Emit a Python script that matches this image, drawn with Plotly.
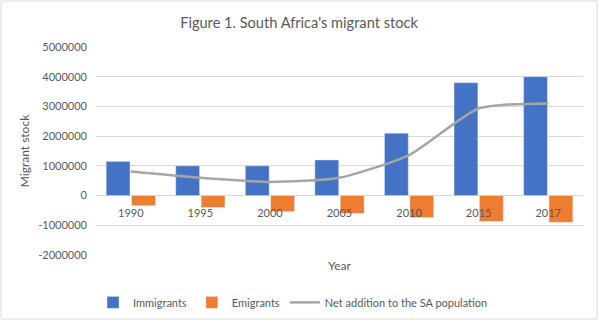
import plotly.graph_objects as go

years = ["1990", "1995", "2000", "2005", "2010", "2015", "2017"]
immigrants = [1150000, 1000000, 1000000, 1200000, 2100000, 3800000, 4000000]
emigrants = [-340000, -400000, -540000, -600000, -740000, -870000, -900000]
net_addition = [i + e for i, e in zip(immigrants, emigrants)]

y_ticks = [5000000, 4000000, 3000000, 2000000, 1000000, 0, -1000000, -2000000]

FONT = "Lato"
TEXT = "#595959"
GRID = "#D9D9D9"

fig = go.Figure()
fig.add_trace(go.Bar(x=years, y=immigrants, name="Immigrants",
                     marker=dict(color="#4472C4")))
fig.add_trace(go.Bar(x=years, y=emigrants, name="Emigrants",
                     marker=dict(color="#ED7D31")))
fig.add_trace(go.Scatter(x=years, y=net_addition, mode="lines",
                         name="Net addition to the SA population",
                         line=dict(color="#A5A5A5", width=2.5, shape="spline", smoothing=0.6)))

y_min, y_max = -2000000, 5000000
zero_pos = (0 - y_min) / (y_max - y_min)

fig.update_layout(
    width=598, height=321,
    margin=dict(l=96, r=15, t=47, b=66, autoexpand=False),
    paper_bgcolor="white", plot_bgcolor="white",
    font=dict(family=FONT, color=TEXT, size=11),
    barmode="group", bargap=0.27, bargroupgap=0.06,
    showlegend=True,
    legend=dict(orientation="h", xref="container", x=0.49, xanchor="center",
                yref="container", y=0.058, yanchor="middle",
                font=dict(size=11, color=TEXT), itemwidth=30, tracegroupgap=0),
    title=dict(text="Figure 1. South Africa's migrant stock", x=0.5, xanchor="center",
               y=0.928, yanchor="middle", font=dict(size=14.6, color=TEXT)),
    xaxis=dict(anchor="free", position=zero_pos, showgrid=False, showline=False,
               ticks="", ticklabelstandoff=9, automargin=False,
               tickfont=dict(size=11, color=TEXT)),
    yaxis=dict(range=[y_min, y_max], tickvals=y_ticks, ticktext=[str(v) for v in y_ticks],
               showgrid=True, gridcolor=GRID, gridwidth=1, zeroline=True,
               zerolinecolor=GRID, zerolinewidth=1, showline=False, automargin=False,
               ticks="", ticklabelstandoff=8,
               tickfont=dict(size=11, color=TEXT),
               title=dict(text="Migrant stock", font=dict(size=12, color=TEXT), standoff=6)),
    annotations=[dict(text="Year", xref="paper", yref="paper", x=0.5, y=-0.05,
                      xanchor="center", yanchor="middle", showarrow=False,
                      font=dict(size=12, color=TEXT))],
    shapes=[dict(type="rect", xref="paper", yref="paper",
                 x0=-0.195, x1=1.029, y0=-0.308, y1=1.221,
                 line=dict(color=GRID, width=1))],
)

fig.write_html("out.html")
